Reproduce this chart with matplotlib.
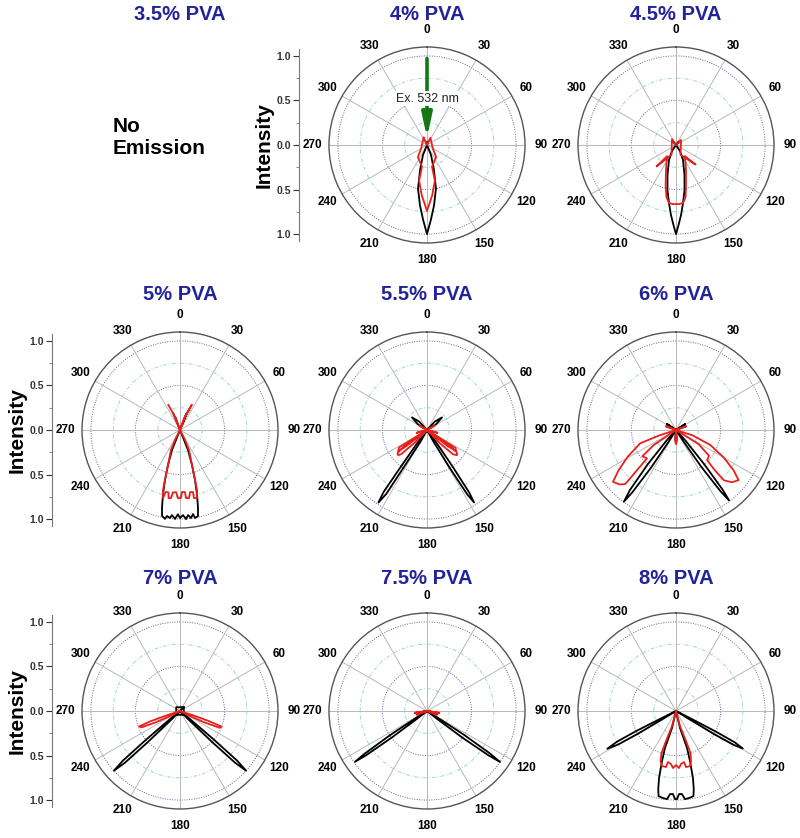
import numpy as np
import matplotlib
matplotlib.use("Agg")
import matplotlib.pyplot as plt

plt.rcParams['font.family'] = ['Liberation Sans', 'DejaVu Sans']

titles = ["3.5% PVA", "4% PVA", "4.5% PVA",
          "5% PVA", "5.5% PVA", "6% PVA",
          "7% PVA", "7.5% PVA", "8% PVA"]
angle_ticks = list(range(0, 360, 30))
intensity_ticks = [1.0, 0.5, 0.0, -0.5, -1.0]
intensity_labels = ["1.0", "0.5", "0.0", "0.5", "1.0"]

# emission patterns: angle in degrees (0 = top, clockwise), normalised intensity
pva4_black_theta = [20, 0, 158, 164.4, 168.4, 173.3, 177.0, 180, 183.0, 186.7, 191.6, 195.6, 202, 0, 340]
pva4_black_r = [0.04, 0, 0.12, 0.29, 0.50, 0.68, 0.84, 1.0, 0.84, 0.68, 0.50, 0.29, 0.12, 0, 0.04]
pva4_red_theta = [335, 0, 25, 120, 143, 167, 167.5, 174, 180, 186, 192.5, 193, 217, 240, 335]
pva4_red_r = [0.09, 0, 0.09, 0.075, 0.17, 0.25, 0.41, 0.565, 0.74, 0.565, 0.41, 0.25, 0.17, 0.075, 0.09]

pva45_black_theta = [320, 0, 40, 0, 146.3, 155.0, 164.2, 169.3, 173.1, 175.9, 178.2, 180,
                     181.8, 184.1, 186.9, 190.7, 195.8, 205.0, 213.7, 0]
pva45_black_r = [0.05, 0, 0.05, 0, 0.081, 0.186, 0.350, 0.515, 0.656, 0.789, 0.900, 1.0,
                 0.900, 0.789, 0.656, 0.515, 0.350, 0.186, 0.081, 0]
pva45_red_theta = [222, 205, 326, 0, 45, 155, 135, 141.3, 158.2, 166.0, 169.6, 173.1, 177.1, 180,
                   182.9, 186.9, 190.4, 194.5, 201.8, 218.7, 222]
pva45_red_r = [0.32, 0.12, 0.08, 0, 0.08, 0.12, 0.31, 0.16, 0.302, 0.463, 0.594, 0.656, 0.664, 0.663,
               0.664, 0.656, 0.594, 0.465, 0.302, 0.16, 0.32]

pva5_black_theta = [338, 0, 22, 0, 158.2, 161.1, 163.3, 165.3, 167.0, 168.2, 170.3, 171.2, 172.9,
                    174.6, 176.1, 178.0, 180, 181.4, 183.2, 185.4, 186.5, 188.6, 189.6, 191.8,
                    193.0, 194.7, 196.7, 198.9, 201.8, 0]
pva5_black_r = [0.2, 0, 0.2, 0, 0.242, 0.416, 0.587, 0.755, 0.899, 0.987, 1.003, 0.955, 0.996,
                0.959, 1.002, 0.956, 0.989, 0.946, 1.0, 0.959, 0.994, 0.976, 1.012, 0.985,
                0.899, 0.755, 0.587, 0.416, 0.242, 0]
pva5_red_theta = [335, 340, 0, 20, 25, 20, 0, 153.4, 155.8, 161.1, 163.3, 164.2, 166.0,
                  168.4, 168.2, 170.8, 172.5, 175.0, 175.4, 178.2, 179.2,
                  181.7, 183.5, 186.5, 187.5, 189.5, 190.5, 193.0, 194.0,
                  195.8, 196.7, 198.9, 204.2, 206.6, 0, 340]
pva5_red_r = [0.31, 0.15, 0, 0.15, 0.31, 0.15, 0, 0.126, 0.247, 0.416, 0.587, 0.70, 0.788,
              0.780, 0.712, 0.706, 0.771, 0.767, 0.699, 0.697, 0.764,
              0.766, 0.70, 0.705, 0.771, 0.775, 0.712, 0.714, 0.788,
              0.70, 0.587, 0.416, 0.247, 0.126, 0, 0.15]

pva55_black_theta = [0, 58, 50, 43, 0, 151, 149, 148, 147, 146, 145, 143, 0,
                     217, 215.5, 215, 213.8, 212.5, 212, 209, 0, 317, 310, 302, 0]
pva55_black_r = [0, 0.12, 0.22, 0.13, 0, 0.15, 0.5, 0.85, 0.97, 0.85, 0.5, 0.15, 0,
                 0.15, 0.5, 0.85, 0.98, 0.85, 0.5, 0.15, 0, 0.13, 0.22, 0.12, 0]
pva55_red_theta = [0, 60, 0, 105, 0, 136, 133, 130, 127, 124, 0, 128, 126, 122, 0,
                   224, 227, 229, 232, 235, 0, 232, 234, 238, 0, 255, 0, 300, 0]
pva55_red_r = [0, 0.1, 0, 0.12, 0, 0.2, 0.4, 0.44, 0.42, 0.3, 0, 0.3, 0.40, 0.38, 0,
               0.2, 0.4, 0.43, 0.42, 0.3, 0, 0.3, 0.40, 0.37, 0, 0.12, 0, 0.1, 0]

pva6_black_theta = [0, 57, 0, 304, 0, 175, 180, 185, 0, 147, 145.5, 144, 143, 142, 140.5, 138, 0,
                    222, 219.5, 217.5, 216, 215, 213.5, 212, 0]
pva6_black_r = [0, 0.12, 0, 0.12, 0, 0.1, 0.14, 0.1, 0, 0.15, 0.5, 0.85, 0.99, 0.85, 0.5, 0.15, 0,
                0.15, 0.5, 0.85, 0.995, 0.85, 0.5, 0.15, 0]
pva6_red_theta = [0, 70, 0, 290, 0, 175, 180, 185, 0,
                  108, 113.6, 120, 125, 128.7, 133, 136.4, 136, 134, 128, 122, 0,
                  252, 249.6, 241, 235, 230.6, 226, 223.2, 224, 225.7, 232, 236, 0]
pva6_red_r = [0, 0.12, 0, 0.12, 0, 0.12, 0.16, 0.12, 0,
              0.2, 0.42, 0.62, 0.79, 0.90, 0.86, 0.78, 0.62, 0.485, 0.47, 0.3, 0,
              0.2, 0.43, 0.62, 0.785, 0.916, 0.88, 0.832, 0.65, 0.455, 0.48, 0.3, 0]

pva7_black_theta = [45, 135, 225, 315, 45, 0, 135, 134, 133.2, 132.1, 131, 130.2, 129, 0,
                    225, 226, 226.8, 227.9, 229, 229.8, 231, 0]
pva7_black_r = [0.06, 0.06, 0.06, 0.06, 0.06, 0, 0.15, 0.5, 0.85, 1.0, 0.85, 0.5, 0.15, 0,
                0.15, 0.5, 0.85, 1.0, 0.85, 0.5, 0.15, 0]
pva7_red_theta = [0, 252, 250.8, 249.3, 247, 245, 243, 0, 108, 109.3, 110.6, 113, 115, 117, 0]
pva7_red_r = [0, 0.15, 0.35, 0.49, 0.47, 0.3, 0.12, 0, 0.15, 0.35, 0.50, 0.48, 0.3, 0.12, 0]

pva75_black_theta = [0, 128, 127, 125.8, 124.9, 124, 122.8, 122, 0,
                     232, 233, 234, 234.8, 235.6, 236.8, 238, 0]
pva75_black_r = [0, 0.15, 0.5, 0.85, 1.0, 0.85, 0.5, 0.15, 0,
                 0.15, 0.5, 0.85, 0.99, 0.85, 0.5, 0.15, 0]
pva75_red_theta = [0, 97, 112, 0, 100, 0, 248, 263, 0, 260, 0]
pva75_red_r = [0, 0.13, 0.12, 0, 0.14, 0, 0.12, 0.13, 0, 0.14, 0]

pva8_black_theta = [0, 121.8, 121.3, 120.5, 119.3, 118.1, 117.3, 116.8, 0,
                    166.8, 163.4, 164.4, 165.8, 167.2, 168.4, 171.5, 174.2, 175.9, 177.9, 179.35,
                    180.65, 182.1, 184.1, 185.8, 188.5, 191.6, 192.8, 194.2, 195.6, 196.6, 193.2, 0,
                    238.6, 239.1, 239.9, 241.2, 242.5, 243.3, 243.8, 0]
pva8_black_r = [0, 0.15, 0.5, 0.75, 0.86, 0.75, 0.5, 0.15, 0,
                0.196, 0.434, 0.583, 0.777, 0.899, 0.975, 0.988, 0.994, 0.935, 0.933, 0.989,
                0.989, 0.933, 0.935, 0.994, 0.988, 0.975, 0.899, 0.777, 0.583, 0.434, 0.196, 0,
                0.15, 0.5, 0.75, 0.88, 0.75, 0.5, 0.15, 0]
pva8_red_theta = [0, 165.1, 161.6, 161.0, 163.3, 165.7, 169.9, 171.1, 174.6, 177.0, 180,
                  183.0, 185.4, 188.9, 190.1, 194.3, 197.2, 199.0, 198.4, 194.9, 0]
pva8_red_r = [0, 0.174, 0.355, 0.499, 0.587, 0.638, 0.639, 0.580, 0.598, 0.641, 0.607,
              0.641, 0.598, 0.580, 0.639, 0.638, 0.588, 0.499, 0.355, 0.174, 0]

curves = [None,
          (pva4_black_theta, pva4_black_r, pva4_red_theta, pva4_red_r),
          (pva45_black_theta, pva45_black_r, pva45_red_theta, pva45_red_r),
          (pva5_black_theta, pva5_black_r, pva5_red_theta, pva5_red_r),
          (pva55_black_theta, pva55_black_r, pva55_red_theta, pva55_red_r),
          (pva6_black_theta, pva6_black_r, pva6_red_theta, pva6_red_r),
          (pva7_black_theta, pva7_black_r, pva7_red_theta, pva7_red_r),
          (pva75_black_theta, pva75_black_r, pva75_red_theta, pva75_red_r),
          (pva8_black_theta, pva8_black_r, pva8_red_theta, pva8_red_r)]

W, H = 800, 838
col_x = [180, 427, 676]
row_y = [145, 430, 711]
title_y = [15, 294, 579]
R = 98  # pixel radius of outer circle

fig = plt.figure(figsize=(W / 100, H / 100), dpi=100)
ring_t = np.linspace(0, 2 * np.pi, 400)
ring_styles = [(0.25, '#9ed6d6', (0, (4, 2, 1, 2))), (0.5, '#6262a8', (0, (1, 1.5))),
               (0.75, '#9ed6d6', (0, (4, 2, 1, 2))), (1.0, '#6262a8', (0, (1, 1.5)))]

for i in range(9):
    row, col = divmod(i, 3)
    cx, cy = col_x[col], row_y[row]
    fig.text(cx / W, 1 - title_y[row] / H, titles[i], ha='center', va='center',
             color='#22229a', fontsize=14.5, fontweight='bold')
    if curves[i] is None:
        fig.text(113 / W, 1 - 127 / H, "No", ha='left', va='center', fontsize=15, fontweight='bold')
        fig.text(113 / W, 1 - 148 / H, "Emission", ha='left', va='center', fontsize=15, fontweight='bold')
        continue

    rect = [(cx - R) / W, (H - cy - R) / H, 2 * R / W, 2 * R / H]
    ax = fig.add_axes(rect, projection='polar')
    ax.set_theta_zero_location('N')
    ax.set_theta_direction(-1)
    ax.set_ylim(0, 1.1)
    ax.set_yticks([])
    ax.set_thetagrids(angle_ticks, labels=[str(a) for a in angle_ticks],
                      fontsize=8.5, fontweight='bold')
    ax.tick_params(axis='x', pad=1.5)
    ax.xaxis.grid(True, color='#b8b8b8', lw=0.7)
    ax.spines['polar'].set_color('#555555')
    ax.spines['polar'].set_linewidth(1.0)
    for r0, c, ls in ring_styles:
        ax.plot(ring_t, np.full_like(ring_t, r0), color=c, ls=ls, lw=0.7, zorder=1)

    bt, br, rt, rr = curves[i]
    ax.plot(np.deg2rad(bt), br, color='black', lw=1.3, zorder=3)
    ax.plot(np.deg2rad(rt), rr, color='#e8201c', lw=1.3, zorder=4)

    if i == 1:
        ax.annotate('', xy=(0, 0.08), xytext=(0, 0.97),
                    arrowprops=dict(arrowstyle='-|>,head_length=1.4,head_width=0.3',
                                    color='#137a13', lw=2.6, shrinkA=0, shrinkB=0), zorder=5)
        ax.text(0, 0.52, 'Ex. 532 nm', ha='center', va='center', fontsize=9, color='#222222',
                bbox=dict(facecolor='white', edgecolor='none', pad=1), zorder=6)

    if col == 0 or i == 1:
        iax = fig.add_axes([(cx - 128) / W, (H - cy - R) / H, 0.001, 2 * R / H])
        iax.set_ylim(-1.1, 1.1)
        iax.set_yticks(intensity_ticks)
        iax.set_yticklabels(intensity_labels)
        iax.set_yticks([0.75, 0.25, -0.25, -0.75], minor=True)
        iax.set_xticks([])
        for s in ['top', 'right', 'bottom']:
            iax.spines[s].set_visible(False)
        iax.spines['left'].set_color('#777777')
        iax.spines['left'].set_bounds(-1.08, 1.08)
        iax.patch.set_visible(False)
        iax.tick_params(axis='y', which='major', length=4, width=0.8, pad=2,
                        labelsize=7.5, colors='#333333')
        iax.tick_params(axis='y', which='minor', length=2, width=0.6, colors='#777777')
        for lab in iax.get_yticklabels():
            lab.set_fontweight('bold')
        iax.set_ylabel('Intensity', fontsize=15, fontweight='bold', labelpad=2)

fig.savefig('out.png', dpi=100)
